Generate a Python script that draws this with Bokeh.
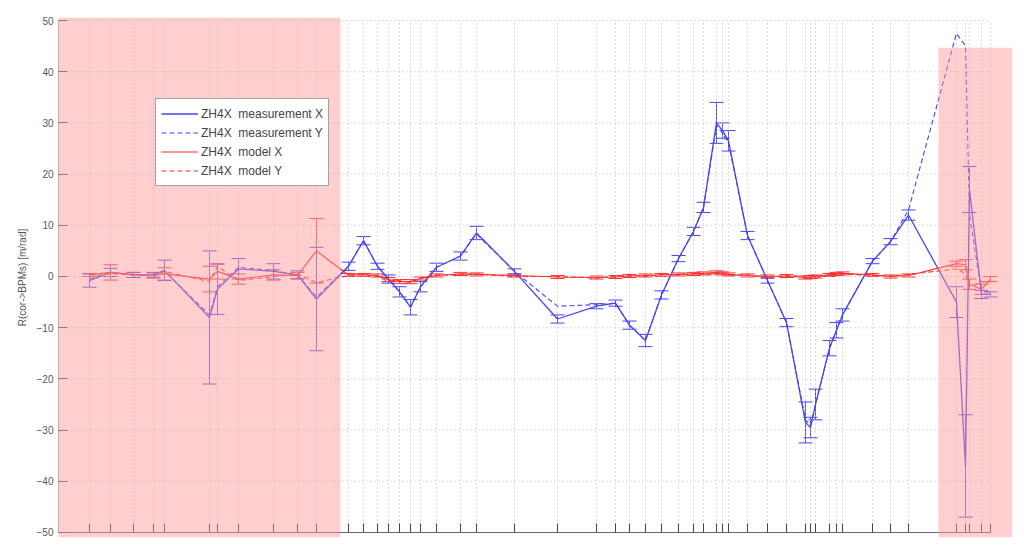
import math
from bokeh.plotting import figure
from bokeh.models import (ColumnDataSource, Whisker, TeeHead, BoxAnnotation,
                          Range1d, FixedTicker)
from bokeh.embed import file_html
from bokeh.resources import INLINE

# BPM positions along the line (s)
s = [31, 52, 75, 95, 106, 151, 159, 180, 215, 239, 258, 290, 305, 319, 330,
     341, 352, 362, 378, 402, 418, 456, 499, 538, 557, 571, 587, 603, 620, 635,
     645, 658, 664, 670, 689, 709, 728, 747, 752, 757, 771, 778, 784, 814, 832,
     850, 898, 907, 911, 923, 932]

meas_x = [-0.8, 0.8, 0.3, 0.3, 1.2, -8.0, -2.5, 1.5, 1.0, 0.3, -4.4, 2.0, 7.0,
          2.0, -0.5, -3.0, -6.0, -2.0, 1.8, 4.0, 8.5, 1.0, -8.3, -5.8, -5.2,
          -9.5, -12.5, -3.6, 3.5, 8.8, 13.5, 30.0, 28.5, 26.5, 8.0, -0.8, -9.0,
          -28.5, -29.5, -25.0, -14.0, -10.5, -7.5, 3.0, 6.8, 12.0, -5.0, -37.0,
          17.0, -3.5, -3.5]

meas_y = [-0.5, 0.8, 0.3, 0.3, 1.0, -7.5, -2.0, 1.8, 1.2, 0.3, -4.0, 2.0, 7.0,
          2.0, -0.5, -3.0, -6.0, -2.0, 1.8, 4.0, 8.3, 1.0, -5.8, -5.5, -5.2,
          -9.5, -12.5, -3.6, 3.5, 8.8, 13.5, 29.5, 28.0, 26.0, 8.0, -0.8, -9.0,
          -28.0, -29.0, -25.0, -14.0, -10.5, -7.5, 3.0, 6.8, 13.0, 47.5, 45.0,
          12.0, -3.0, -3.0]

meas_err = [1.3, 0.8, 0.5, 0.5, 2.0, 13.0, 4.9, 2.0, 1.5, 0.8, 10.1, 0.8, 0.8,
            0.6, 0.8, 1.0, 1.5, 1.0, 0.8, 0.8, 1.3, 0.5, 0.8, 0.5, 0.6, 0.8,
            1.2, 0.8, 0.6, 0.8, 1.0, 4.0, 1.5, 2.0, 0.8, 0.5, 0.8, 4.0, 2.0,
            3.0, 1.5, 1.5, 1.2, 0.5, 0.6, 1.0, 3.0, 10.0, 4.5, 0.8, 0.5]

model_x = [0.3, 0.8, 0.3, 0.2, 0.5, -0.5, 1.0, -0.5, 0.3, 0.2, 5.0, 0.3, 0.3,
           0.2, -0.6, -1.0, -1.0, -0.4, 0.2, 0.5, 0.4, 0.2, -0.1, -0.2, -0.1,
           0.1, 0.2, 0.3, 0.4, 0.5, 0.6, 0.8, 0.6, 0.4, 0.2, 0.0, 0.1, -0.2,
           -0.1, 0.0, 0.3, 0.5, 0.6, 0.3, 0.0, 0.2, 2.5, 2.3, -1.5, -2.5, -0.5]

model_y = [0.0, 0.5, 0.5, 0.0, 1.0, -1.0, 2.0, -0.8, 0.0, 0.5, -1.2, 0.2, 0.4,
           0.0, -1.0, -0.8, -1.2, -0.2, 0.3, 0.3, 0.5, 0.0, 0.0, -0.3, 0.0,
           0.2, 0.0, 0.4, 0.3, 0.6, 0.4, 0.5, 0.8, 0.2, 0.3, -0.2, 0.2, 0.0,
           0.1, -0.2, 0.4, 0.3, 0.5, 0.2, 0.1, 0.4, 1.5, 0.5, -2.0, -1.0, -1.0]

model_err = [0.3, 1.5, 0.5, 0.5, 1.2, 2.5, 1.5, 1.0, 1.0, 0.6, 6.3, 0.3, 0.3,
             0.3, 0.4, 0.4, 0.4, 0.3, 0.3, 0.3, 0.3, 0.3, 0.3, 0.3, 0.3, 0.3,
             0.3, 0.3, 0.3, 0.3, 0.3, 0.3, 0.3, 0.3, 0.3, 0.3, 0.3, 0.3, 0.3,
             0.3, 0.3, 0.3, 0.3, 0.3, 0.3, 0.3, 0.5, 1.0, 1.0, 1.0, 0.5]

y_ticks = [-50, -40, -30, -20, -10, 0, 10, 20, 30, 40, 50]

# highlighted s-intervals
hl_left = (0, 282)
hl_right = (880, 954)
hl_right_top = 44.7

S_MIN, S_MAX = 0, 932
Y_MIN, Y_MAX = -50, 50

BLUE = "#4646ee"
RED = "#ff2e2e"
GRID = "#b8b8b8"
AXIS = "#666666"
FONT = "Liberation Sans"

p = figure(width=1024, height=547, output_backend="svg", toolbar_location=None,
           x_range=Range1d(0, 954), y_range=Range1d(-50.977, 50.586),
           x_axis_location=None,
           min_border_left=58, min_border_right=12, min_border_top=17,
           min_border_bottom=10)
p.outline_line_color = None
p.background_fill_color = "white"
p.border_fill_color = "white"
p.xgrid.visible = False
p.ygrid.visible = False

# y axis
p.yaxis.ticker = FixedTicker(ticks=y_ticks)
p.yaxis.major_tick_in = 9
p.yaxis.major_tick_out = 0
p.yaxis.minor_tick_line_color = None
p.yaxis.axis_line_color = None
p.yaxis.major_tick_line_color = "#555555"
p.yaxis.major_label_text_font = FONT
p.yaxis.major_label_text_font_size = "10px"
p.yaxis.major_label_text_color = "#555555"
p.yaxis.major_label_standoff = 5
p.yaxis.axis_label = "R(cor->BPMs) [m/rad]"
p.yaxis.axis_label_text_font = FONT
p.yaxis.axis_label_text_font_size = "10px"
p.yaxis.axis_label_text_font_style = "normal"
p.yaxis.axis_label_text_color = "#555555"
p.yaxis.axis_label_standoff = 6

# dotted grid limited to the axes box
p.segment(x0=s, y0=Y_MIN, x1=s, y1=Y_MAX, line_color=GRID, line_dash="1 3",
          line_width=1)
p.segment(x0=S_MIN, y0=y_ticks, x1=S_MAX, y1=y_ticks, line_color=GRID,
          line_dash="1 3", line_width=1)

# axis lines and bottom ticks (inward)
p.segment(x0=[S_MIN, S_MIN], y0=[Y_MIN, Y_MIN], x1=[S_MIN, S_MAX],
          y1=[Y_MAX, Y_MIN], line_color=AXIS, line_width=1)
p.ray(x=s, y=Y_MIN, length=9, length_units="screen", angle=math.pi / 2,
      line_color="#444444", line_width=1)

# error bars
src_meas = ColumnDataSource(dict(
    s=s,
    up=[v + e for v, e in zip(meas_x, meas_err)],
    lo=[v - e for v, e in zip(meas_x, meas_err)]))
src_model = ColumnDataSource(dict(
    s=s,
    up=[v + e for v, e in zip(model_x, model_err)],
    lo=[v - e for v, e in zip(model_x, model_err)]))

p.add_layout(Whisker(base="s", upper="up", lower="lo", source=src_model,
                     line_color=RED, line_width=1,
                     upper_head=TeeHead(size=14, line_color=RED, line_width=1),
                     lower_head=TeeHead(size=14, line_color=RED, line_width=1)))
p.add_layout(Whisker(base="s", upper="up", lower="lo", source=src_meas,
                     line_color=BLUE, line_width=1,
                     upper_head=TeeHead(size=14, line_color=BLUE, line_width=1),
                     lower_head=TeeHead(size=14, line_color=BLUE, line_width=1)))

# lines
p.line(s, meas_x, line_color=BLUE, line_width=1.3,
       legend_label="ZH4X  measurement X")
p.line(s, meas_y, line_color=BLUE, line_width=1.1, line_dash="5 3",
       legend_label="ZH4X  measurement Y")
p.line(s, model_x, line_color=RED, line_width=1.2,
       legend_label="ZH4X  model X")
p.line(s, model_y, line_color=RED, line_width=1.1, line_dash="5 3",
       legend_label="ZH4X  model Y")

lg = p.legend[0]
lg.location = (97, 351)
lg.border_line_color = "#444444"
lg.border_line_width = 1
lg.background_fill_color = "white"
lg.background_fill_alpha = 1.0
lg.label_text_font = FONT
lg.label_text_font_size = "12px"
lg.label_text_color = "#444444"
lg.glyph_width = 37
lg.glyph_height = 19
lg.label_height = 19
lg.label_standoff = 3
lg.spacing = 0
lg.padding = 5
lg.margin = 0

# highlighted regions (semi-transparent overlay)
p.add_layout(BoxAnnotation(left=hl_left[0], right=hl_left[1],
                           fill_color="#ff9a9a", fill_alpha=0.47,
                           line_color=None))
p.add_layout(BoxAnnotation(left=hl_right[0], right=hl_right[1],
                           top=hl_right_top,
                           fill_color="#ff9a9a", fill_alpha=0.47,
                           line_color=None))

open("out.html", "w").write(file_html(p, INLINE))
